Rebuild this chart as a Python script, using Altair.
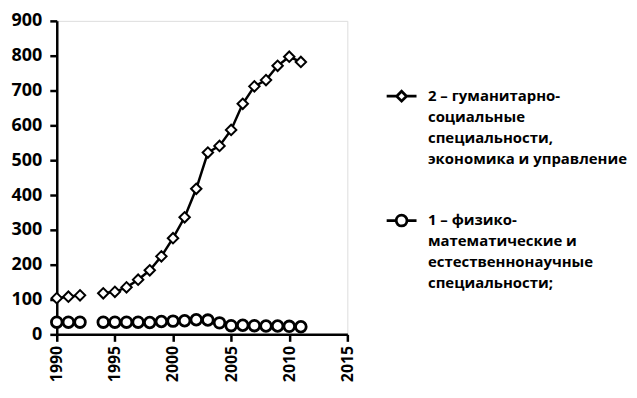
import altair as alt
import pandas as pd

years = [1990, 1991, 1992, 1994, 1995, 1996, 1997, 1998, 1999, 2000, 2001,
         2002, 2003, 2004, 2005, 2006, 2007, 2008, 2009, 2010, 2011]
humanities = [104, 108, 112, 118, 122, 135, 157, 184, 224, 276, 336,
              418, 522, 541, 587, 662, 712, 730, 771, 797, 782]
physmath = [35, 35, 35, 35, 35, 35, 35, 34, 37, 38, 39,
            42, 41, 33, 25, 26, 25, 24, 24, 23, 22]

name_h = "2 – гуманитарно-|социальные|специальности,|экономика и управление"
name_p = "1 – физико-|математические и|естественнонаучные|специальности;"
series_order = [name_h, name_p]

x_ticks = [1990, 1995, 2000, 2005, 2010, 2015]
y_ticks = [0, 100, 200, 300, 400, 500, 600, 700, 800, 900]

rows = []
for yr, v in zip(years, humanities):
    rows.append({"year": yr, "value": v, "series": name_h})
for yr, v in zip(years, physmath):
    rows.append({"year": yr, "value": v, "series": name_p})
df = pd.DataFrame(rows)

FONT = "Open Sans"

x = alt.X("year:Q", scale=alt.Scale(domain=[1990, 2015], nice=False),
          axis=alt.Axis(values=x_ticks, format="d", labelAngle=-90, title=None,
                        grid=False, domainWidth=2.5, domainColor="black",
                        tickColor="black", tickWidth=2.5, tickSize=7,
                        labelFont=FONT, labelFontSize=16, labelFontWeight="bold",
                        labelColor="black", labelPadding=4,
                        labelAlign="right", labelBaseline="middle"))
y = alt.Y("value:Q", scale=alt.Scale(domain=[0, 900], nice=False),
          axis=alt.Axis(values=y_ticks, title=None, grid=False,
                        domainWidth=2.5, domainColor="black",
                        tickColor="black", tickWidth=2.5, tickSize=7,
                        labelFont=FONT, labelFontSize=18, labelFontWeight="bold",
                        labelColor="black", labelPadding=8))

base = alt.Chart(df).transform_calculate(seg="datum.year < 1993 ? 0 : 1")

lines = base.mark_line(color="black", strokeWidth=2.5).encode(
    x=x, y=y, detail=["series:N", "seg:N"]
)

points = base.mark_point(fill="white", stroke="black", opacity=1, filled=False).encode(
    x=x, y=y,
    shape=alt.Shape("series:N", scale=alt.Scale(domain=series_order, range=["diamond", "circle"]), legend=None),
    size=alt.Size("series:N", scale=alt.Scale(domain=series_order, range=[110, 115]), legend=None),
    strokeWidth=alt.StrokeWidth("series:N", scale=alt.Scale(domain=series_order, range=[2, 2.8]), legend=None),
)

# legend symbols: line segment + marker, shifted down to sit on the first label line
path_d = "M-1,0.68L-0.33,0.68M0,0.35L0.33,0.68L0,1.01L-0.33,0.68ZM0.33,0.68L1,0.68"
path_c = ("M-1,0.68L-0.36,0.68M-0.36,0.68A0.36,0.36,0,1,1,0.36,0.68"
          "A0.36,0.36,0,1,1,-0.36,0.68ZM0.36,0.68L1,0.68")

legend_layer = base.transform_filter("datum.year < 0").mark_point(color="black", opacity=1).encode(
    x=x, y=y,
    shape=alt.Shape("series:N", scale=alt.Scale(domain=series_order, range=[path_d, path_c]),
                    legend=alt.Legend(
                        title=None, orient="none", legendX=330, legendY=49,
                        labelExpr="split(datum.label, '|')",
                        labelFont=FONT, labelFontSize=15, labelFontWeight="bold",
                        labelColor="black", labelLimit=400, labelBaseline="line-top",
                        symbolSize=900, symbolStrokeWidth=2.8,
                        rowPadding=27, labelOffset=10, padding=0,
                    )),
)

chart = alt.layer(lines, points, legend_layer).resolve_scale(
    shape="independent"
).properties(
    width=292, height=315,
    autosize=alt.AutoSizeParams(type="none"),
    padding={"left": 49, "top": 12, "right": 283, "bottom": 58},
).configure_view(stroke=None).configure(
    style={"guide-label": {"lineHeight": 21}}
)

chart.save("out.html", embed_options={"renderer": "svg", "actions": False})
